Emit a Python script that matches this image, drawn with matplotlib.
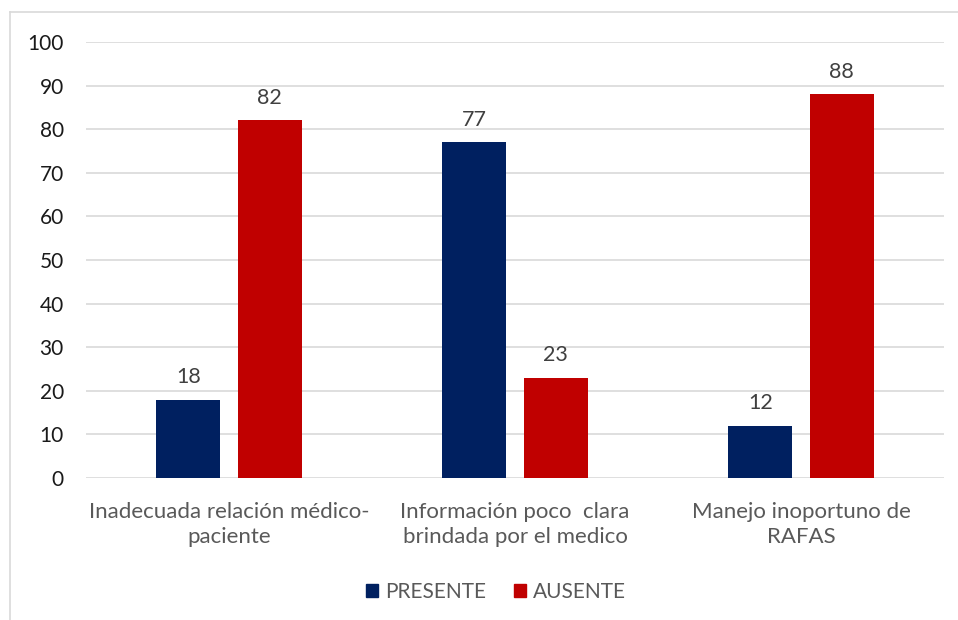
import numpy as np
import matplotlib.pyplot as plt
from matplotlib.lines import Line2D
from matplotlib.patches import Patch

# datos del gráfico
categorias = ["Inadecuada relación médico-\npaciente",
              "Información poco  clara\nbrindada por el medico",
              "Manejo inoportuno de\nRAFAS"]
presente = [18, 77, 12]
ausente = [82, 23, 88]
series = ["PRESENTE", "AUSENTE"]
colores = ["#002060", "#C00000"]

plt.rcParams['font.family'] = ['Lato', 'DejaVu Sans']

W, H = 958, 620
fig = plt.figure(figsize=(W / 100, H / 100), dpi=100)

# marco del área del gráfico (estilo Excel)
fig.add_artist(Line2D([10 / W, 1], [1 - 12 / H, 1 - 12 / H], color="#d9d9d9", lw=1.2))
fig.add_artist(Line2D([10 / W, 10 / W], [0, 1 - 12 / H], color="#d9d9d9", lw=1.2))

ax = fig.add_axes([86 / W, 1 - 478 / H, (944 - 86) / W, (478 - 42) / H])

x = np.arange(len(categorias))
ancho = 0.224
desp = 0.142

b1 = ax.bar(x - desp, presente, ancho, color=colores[0], zorder=3)
b2 = ax.bar(x + desp, ausente, ancho, color=colores[1], zorder=3)

for barras in (b1, b2):
    for r in barras:
        ax.annotate(f"{r.get_height():.0f}", (r.get_x() + r.get_width() / 2, r.get_height()),
                    xytext=(0, 9), textcoords="offset points", ha="center", va="bottom",
                    fontsize=15.5, color="#404040")

ax.set_xlim(-0.5, 2.5)
ax.set_ylim(0, 100)
ax.set_yticks(range(0, 101, 10))
ax.yaxis.grid(True, color="#d9d9d9", lw=1.2, zorder=0)
ax.set_axisbelow(True)
for s in ax.spines.values():
    s.set_visible(False)
ax.tick_params(axis="y", length=0, pad=16, labelsize=15, labelcolor="#1a1a1a")
ax.tick_params(axis="x", length=0, pad=17, labelsize=16, labelcolor="#595959")
ax.set_xticks(x)
ax.set_xticklabels(categorias, linespacing=1.35)

manejadores = [Patch(color=c) for c in colores]
fig.legend(manejadores, series, loc="center", bbox_to_anchor=(496 / W, 1 - 592 / H),
           ncol=2, frameon=False, fontsize=15, labelcolor="#595959",
           handlelength=0.6, handleheight=0.6, handletextpad=0.35, columnspacing=1.3)

fig.savefig("out.png", dpi=100)
